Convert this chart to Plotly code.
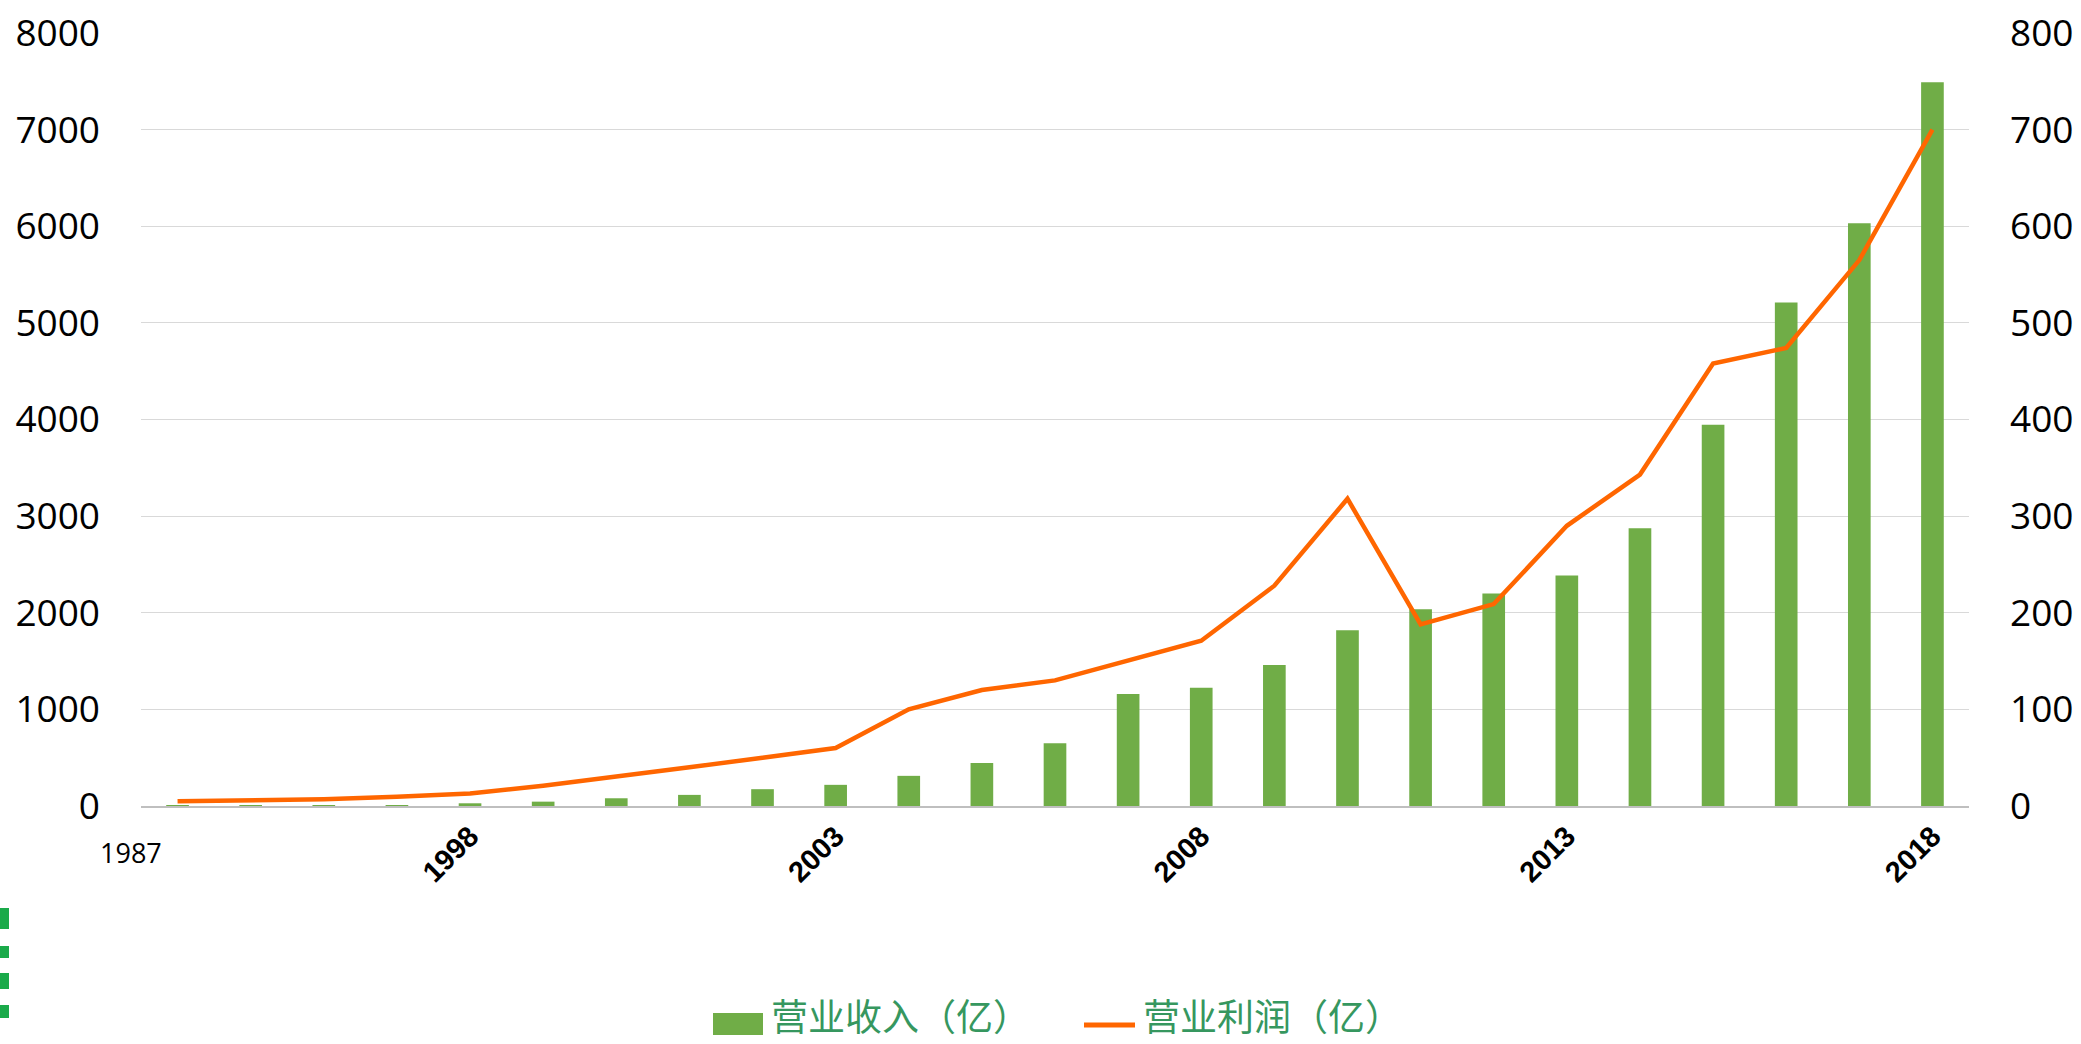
import plotly.graph_objects as go

years = ["1987", "1995", "1996", "1997", "1998", "1999", "2000", "2001", "2002",
         "2003", "2004", "2005", "2006", "2007", "2008", "2009", "2010", "2011",
         "2012", "2013", "2014", "2015", "2016", "2017", "2018"]
revenue = [1, 3, 5, 10, 28, 45, 80, 115, 174, 219, 312, 445, 650, 1160, 1225,
           1460, 1820, 2035, 2200, 2385, 2875, 3945, 5210, 6030, 7490]
profit = [5, 5.5, 7, 9.6, 13, 21, 30, 40, 50, 60, 100, 120, 130, 150, 171,
          228, 318, 188, 209, 290, 343, 458, 474, 565, 700]
tick_years = ["1998", "2003", "2008", "2013", "2018"]
left_ticks = [0, 1000, 2000, 3000, 4000, 5000, 6000, 7000, 8000]
right_ticks = [0, 100, 200, 300, 400, 500, 600, 700, 800]
name_rev = "营业收入（亿）"
name_profit = "营业利润（亿）"

BAR_COLOR = "#70AD47"
LINE_COLOR = "#FF6600"
LEGEND_TEXT = "#36975F"

W, H = 2081, 1044
L, R, T, B = 141, 112, 33, 238
pw, ph = W - L - R, H - T - B


def px(x):
    return (x - L) / pw


def py(y):
    return (H - B - y) / ph


fig = go.Figure()
fig.add_trace(go.Bar(x=years, y=revenue, name=name_rev,
                     marker=dict(color=BAR_COLOR, line=dict(width=0)),
                     yaxis="y", showlegend=False))
fig.add_trace(go.Scatter(x=years, y=profit, name=name_profit, mode="lines",
                         line=dict(color=LINE_COLOR, width=4.5),
                         yaxis="y2", showlegend=False))

fig.update_layout(
    width=W, height=H,
    margin=dict(l=L, r=R, t=T, b=B, autoexpand=False),
    paper_bgcolor="white", plot_bgcolor="white",
    bargap=0.69,
    showlegend=False,
    xaxis=dict(type="category", range=[-0.5, len(years) - 0.5],
               tickmode="array", tickvals=tick_years, ticktext=tick_years,
               tickangle=-45, ticks="", showgrid=False,
               showline=True, linecolor="#BFBFBF", linewidth=1.5,
               tickfont=dict(family="Liberation Sans", size=29, color="black",
                             weight="bold")),
    yaxis=dict(range=[0, 8000], tickmode="array", tickvals=left_ticks,
               showgrid=True, gridcolor="#D9D9D9", gridwidth=1.2,
               zeroline=False, showline=False, ticks="",
               tickfont=dict(family="Open Sans", size=37, color="black"),
               ticklabelstandoff=40),
    yaxis2=dict(range=[0, 800], tickmode="array", tickvals=right_ticks,
                overlaying="y", side="right", showgrid=False,
                zeroline=False, showline=False, ticks="",
                tickfont=dict(family="Open Sans", size=37, color="black"),
                ticklabelstandoff=40),
)

# horizontal "1987" label under the first category
fig.add_annotation(x=0, y=0, xref="x", yref="y", text=years[0],
                   showarrow=False, xanchor="center", yanchor="middle",
                   xshift=-47, yshift=-46,
                   font=dict(family="Open Sans", size=27, color="black"))

# legend drawn at the bottom centre
fig.add_shape(type="rect", xref="paper", yref="paper",
              x0=px(713), x1=px(763), y0=py(1035), y1=py(1013),
              fillcolor=BAR_COLOR, line=dict(width=0))
fig.add_annotation(x=px(770), y=py(1015), xref="paper", yref="paper",
                   text=name_rev, showarrow=False, xanchor="left",
                   yanchor="middle", borderpad=0,
                   font=dict(family="Noto Sans CJK SC", size=37,
                             color=LEGEND_TEXT))
fig.add_shape(type="line", xref="paper", yref="paper",
              x0=px(1084), x1=px(1135), y0=py(1025), y1=py(1025),
              line=dict(color=LINE_COLOR, width=5))
fig.add_annotation(x=px(1142), y=py(1015), xref="paper", yref="paper",
                   text=name_profit, showarrow=False, xanchor="left",
                   yanchor="middle", borderpad=0,
                   font=dict(family="Noto Sans CJK SC", size=37,
                             color=LEGEND_TEXT))

# small green marks at the left edge (cropped decoration)
for y0, y1 in [(908, 929), (946, 958), (973, 989), (1005, 1018)]:
    fig.add_shape(type="rect", xref="paper", yref="paper",
                  x0=px(0), x1=px(9), y0=py(y1), y1=py(y0),
                  fillcolor="#1AAA4A", line=dict(width=0), layer="above")

fig.write_html("out.html",
               config={"displayModeBar": False},
               post_script="document.body.style.margin='0';"
                           "document.body.style.overflow='hidden';")
